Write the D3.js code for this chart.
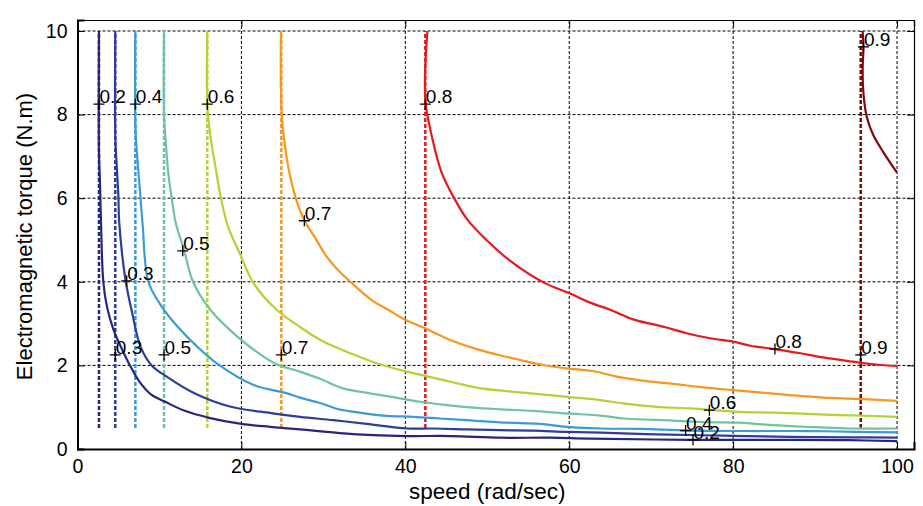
<!DOCTYPE html>
<html>
<head>
<meta charset="utf-8">
<script src="https://cdn.jsdelivr.net/npm/d3@7"></script>
<style>
  html, body { margin: 0; padding: 0; background: #fff; }
  svg { display: block; }
  text { font-family: "Liberation Sans", Arial, Helvetica, sans-serif; fill: #000; }
</style>
</head>
<body>
<svg id="chart" width="923" height="506"></svg>
<script>
// Efficiency levels and their colours
const levels = [0.2, 0.3, 0.4, 0.5, 0.6, 0.7, 0.8, 0.9];
const colors = ["#26267c", "#2d3e98", "#3c9ad7", "#6fc3a2", "#b4d238", "#f7971e", "#e41a1c", "#7e0a0a"];

// Base-speed limit of each efficiency level (dashed verticals) and its vertical span
const limitSpeed = [2.62, 4.61, 7.06, 10.56, 15.84, 24.87, 42.44, 95.57];
const limitTorque = [0.5, 10];
// Torque at which each limit line is labelled
const limitLabelTorque = [8.25, 2.25, 8.25, 2.25, 8.25, 2.25, 8.25, 2.25];

// Constant-efficiency contours: [speed (rad/s), torque (N.m)]
const eff20 = [[2.62,10],[2.62,7.1],[2.75,6.3],[2.87,5.4],[3.15,4.0],[3.6,3.4],[4.4,2.85],[5.4,2.4],[6.4,2.0],[7.6,1.6],[9.0,1.3],[10.7,1.13],[13.0,0.92],[16.2,0.74],[20.0,0.6],[23.5,0.53],[27.15,0.47],[32.0,0.38],[36.1,0.33],[40.2,0.31],[45.5,0.31],[51.6,0.27],[57.7,0.27],[62.5,0.25],[74.7,0.22],[86.9,0.22],[94.0,0.21],[100,0.19]];
const eff30 = [[4.61,10],[4.61,7.5],[4.78,6.8],[4.98,6.08],[5.1,5.4],[5.86,4.04],[6.68,3.25],[7.69,2.45],[9.05,2.0],[10.9,1.73],[14.2,1.34],[18.7,1.01],[23.6,0.86],[27.15,0.77],[31.2,0.69],[35.3,0.6],[40.2,0.49],[43.4,0.49],[47.5,0.47],[51.6,0.45],[55.6,0.44],[59.7,0.41],[63.8,0.39],[70.7,0.35],[78.8,0.32],[86.9,0.29],[95.1,0.28],[100,0.27]];
const eff40 = [[7.06,10],[7.06,7.75],[7.3,6.95],[7.63,6.16],[7.95,5.36],[8.65,4.0],[10.3,3.4],[12.2,2.93],[14.6,2.45],[17.0,2.05],[21.5,1.53],[25.6,1.33],[27.15,1.23],[29.6,1.1],[31.5,0.97],[33.3,0.9],[37.3,0.8],[41.0,0.77],[44.2,0.73],[48.3,0.68],[52.4,0.63],[56.4,0.6],[59.7,0.53],[63.8,0.49],[68.6,0.48],[74.7,0.44],[82.9,0.43],[89.0,0.43],[95.1,0.41],[100,0.4]];
const eff50 = [[10.56,10],[10.56,8.0],[10.8,7.27],[11.1,6.56],[11.5,6.0],[12.0,5.4],[13.0,4.76],[14.1,4.0],[16.2,3.33],[19.5,2.69],[22.7,2.21],[24.3,2.03],[27.15,1.85],[29.6,1.68],[32.4,1.45],[35.7,1.33],[38.5,1.24],[41.8,1.13],[45.1,1.05],[48.3,0.99],[51.6,0.95],[55.6,0.91],[59.7,0.85],[63.8,0.8],[66.6,0.73],[72.7,0.68],[76.8,0.64],[80.8,0.63],[84.9,0.57],[89.0,0.53],[94.3,0.49],[100,0.49]];
const eff60 = [[15.84,10],[15.84,8.23],[16.2,7.51],[16.8,6.79],[17.5,6.0],[18.4,5.3],[19.8,4.68],[21.5,3.96],[24.3,3.33],[27.3,2.9],[30.0,2.57],[33.3,2.29],[36.5,2.05],[39.8,1.87],[42.4,1.75],[45.5,1.61],[48.7,1.47],[52.0,1.39],[56.0,1.32],[60.1,1.24],[63.8,1.17],[66.6,1.09],[70.7,1.01],[74.7,0.97],[80.8,0.89],[84.9,0.87],[89.0,0.84],[93.1,0.81],[97.1,0.79],[100,0.77]];
const eff70 = [[24.83,10],[24.92,8.0],[25.5,7.0],[25.9,6.56],[26.7,5.96],[27.7,5.46],[29.0,5.05],[30.4,4.6],[31.6,4.32],[33.3,4.0],[35.9,3.56],[37.9,3.33],[40.0,3.09],[42.4,2.89],[45.5,2.61],[48.7,2.39],[52.0,2.22],[54.0,2.13],[56.8,2.01],[59.7,1.93],[63.0,1.86],[65.8,1.73],[69.9,1.61],[72.7,1.56],[75.6,1.49],[78.8,1.43],[82.9,1.36],[86.9,1.29],[91.0,1.23],[95.1,1.2],[100,1.15]];
const eff80 = [[42.7,10],[42.4,8.95],[42.5,8.23],[43.2,7.51],[44.4,6.63],[45.9,6.02],[47.6,5.48],[49.9,5.0],[52.8,4.5],[56.9,3.98],[60.1,3.72],[62.3,3.52],[65.0,3.33],[67.8,3.1],[70.3,2.98],[72.0,2.9],[74.3,2.77],[77.2,2.65],[80.0,2.57],[82.1,2.47],[85.1,2.39],[88.2,2.29],[91.0,2.19],[93.9,2.11],[95.6,2.06],[98.0,2.01],[100,1.99]];
const eff90 = [[95.8,10],[95.9,9.62],[95.8,9.07],[95.9,8.51],[96.3,7.95],[97.1,7.51],[98.3,7.11],[100,6.61]];
const contours = [eff20, eff30, eff40, eff50, eff60, eff70, eff80, eff90];

// Inline contour labels: [speed, torque, level]
const contourLabels = [[6.0,4.02,0.3],[12.84,4.74,0.5],[27.68,5.46,0.7],[85.1,2.39,0.8],[95.9,9.62,0.9],[77.1,0.93,0.6],[74.2,0.44,0.4],[75.1,0.22,0.2]];

// Axis ticks and titles
const xTicks = [0, 20, 40, 60, 80, 100];
const yTicks = [0, 2, 4, 6, 8, 10];
const xTitle = "speed (rad/sec)";
const yTitle = "Electromagnetic torque (N.m)";

const W = 923, H = 506;
const margin = { left: 77.5, right: 9, top: 20, bottom: 57 };
const x = d3.scaleLinear().domain([0, 102.07]).range([margin.left, W - margin.right]);
const y = d3.scaleLinear().domain([0, 10.263]).range([H - margin.bottom, margin.top]);

const svg = d3.select("#chart");

// Grid
const grid = svg.append("g").attr("stroke", "#000").attr("stroke-width", 1).attr("stroke-dasharray", "3,2");
grid.selectAll("line.gx").data(xTicks.filter(d => d > 0)).join("line")
  .attr("x1", d => x(d)).attr("x2", d => x(d))
  .attr("y1", y.range()[0]).attr("y2", y.range()[1]);
grid.selectAll("line.gy").data(yTicks.filter(d => d > 0)).join("line")
  .attr("y1", d => y(d)).attr("y2", d => y(d))
  .attr("x1", x.range()[0]).attr("x2", x.range()[1]);

// Dashed base-speed limits
svg.append("g").selectAll("line").data(limitSpeed).join("line")
  .attr("x1", d => x(d)).attr("x2", d => x(d))
  .attr("y1", y(limitTorque[0])).attr("y2", y(limitTorque[1]))
  .attr("stroke", (d, i) => colors[i])
  .attr("stroke-width", 2.5)
  .attr("stroke-dasharray", "4,2");

// Solid efficiency contours
const line = d3.line().x(d => x(d[0])).y(d => y(d[1])).curve(d3.curveCatmullRom.alpha(0.5));
svg.append("g").selectAll("path").data(contours).join("path")
  .attr("d", line)
  .attr("fill", "none")
  .attr("stroke", (d, i) => colors[i])
  .attr("stroke-width", 2.2)
  .attr("stroke-linejoin", "round");

// Labels: "+" marker with the level written beside it
const labelData = limitSpeed.map((s, i) => [s, limitLabelTorque[i], levels[i]]).concat(contourLabels);
const lab = svg.append("g").selectAll("g").data(labelData).join("g")
  .attr("transform", d => `translate(${x(d[0])},${y(d[1])})`);
lab.append("path")
  .attr("d", "M-5.5,0H5.5M0,-5.5V5.5")
  .attr("stroke", "#000").attr("stroke-width", 1.3).attr("fill", "none");
lab.append("text")
  .attr("x", 0.5).attr("y", -1)
  .style("font-size", "19px")
  .text(d => d3.format(".1f")(d[2]));

// Axes with inward ticks on all four sides
const fmt = d3.format("d");
const axB = svg.append("g").attr("transform", `translate(0,${y(0)})`)
  .call(d3.axisBottom(x).tickValues(xTicks).tickFormat(fmt).tickSize(-7).tickPadding(10));
const axL = svg.append("g").attr("transform", `translate(${x(0)},0)`)
  .call(d3.axisLeft(y).tickValues(yTicks).tickFormat(fmt).tickSize(-7).tickPadding(10));
const axT = svg.append("g").attr("transform", `translate(0,${margin.top})`)
  .call(d3.axisTop(x).tickValues(xTicks).tickFormat("").tickSize(-7));
const axR = svg.append("g").attr("transform", `translate(${W - margin.right},0)`)
  .call(d3.axisRight(y).tickValues(yTicks).tickFormat("").tickSize(-7));
[axB, axL, axT, axR].forEach(a => {
  a.select(".domain").attr("stroke", "#000");
  a.selectAll(".tick line").attr("stroke", "#000").attr("stroke-width", 1);
  a.selectAll("text").style("font-size", "19.5px").attr("font-family", null);
});
axB.select(".domain").attr("stroke-width", 2);
axL.select(".domain").attr("stroke-width", 2);
axT.select(".domain").attr("stroke-width", 1.2);
axR.select(".domain").attr("stroke-width", 1.2);

// Titles
svg.append("text")
  .attr("x", x(50)).attr("y", 499)
  .attr("text-anchor", "middle")
  .style("font-size", "22.5px")
  .text(xTitle);
svg.append("text")
  .attr("transform", `translate(32,${(y(0) + y(10.263)) / 2 + 2}) rotate(-90)`)
  .attr("text-anchor", "middle")
  .style("font-size", "22px")
  .text(yTitle);
</script>
</body>
</html>
